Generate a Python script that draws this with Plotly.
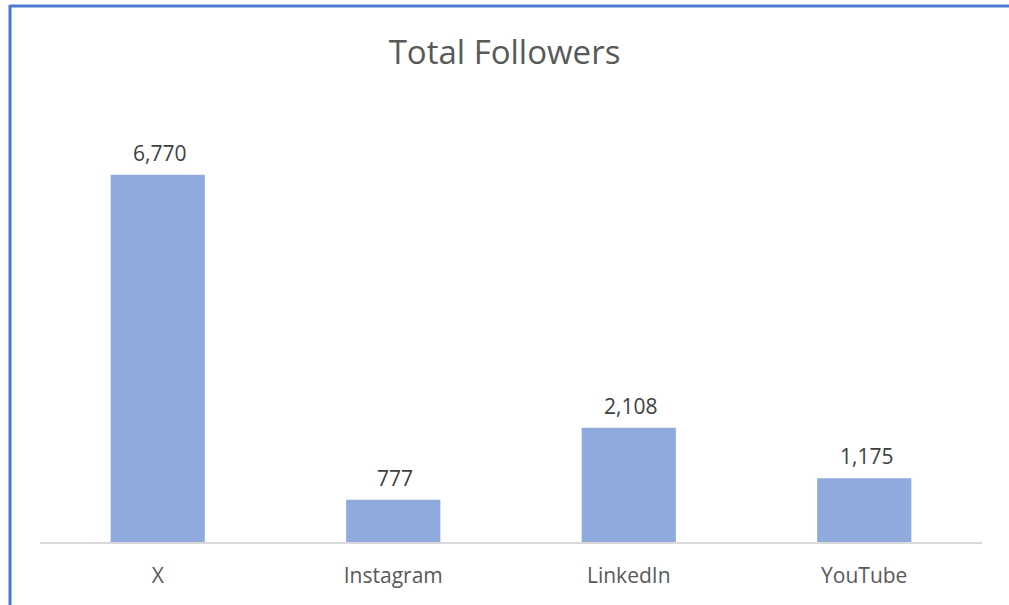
import plotly.graph_objects as go

categories = ["X", "Instagram", "LinkedIn", "YouTube"]
followers = [6770, 777, 2108, 1175]
labels = [f"{v:,}" for v in followers]

W, H = 1009, 605
L, R, T, B = 40, 27, 108, 63
pw, ph = W - L - R, H - T - B

def px_to_paper_x(px):
    return (px - L) / pw

def px_to_paper_y(py):
    return (H - B - py) / ph

fig = go.Figure(go.Bar(
    x=categories, y=followers,
    marker=dict(color="#8FAADC", line=dict(width=0)), width=0.4,
    hoverinfo="x+y",
))

for c, v, t in zip(categories, followers, labels):
    fig.add_annotation(x=c, y=v, text=t, showarrow=False, yanchor="middle", yshift=22, xshift=2,
                       font=dict(family="Open Sans", size=21, color="#404040"))

border = "#4A79D3"
fig.add_shape(type="line", xref="paper", yref="paper",
              x0=px_to_paper_x(10), x1=px_to_paper_x(W + 5),
              y0=px_to_paper_y(6), y1=px_to_paper_y(6),
              line=dict(color=border, width=3))
fig.add_shape(type="line", xref="paper", yref="paper",
              x0=px_to_paper_x(10), x1=px_to_paper_x(10),
              y0=px_to_paper_y(5), y1=px_to_paper_y(H + 5),
              line=dict(color=border, width=3))

fig.update_layout(
    width=W, height=H,
    margin=dict(l=L, r=R, t=T, b=B),
    paper_bgcolor="white", plot_bgcolor="white",
    title=dict(text="Total Followers", x=0.5, xanchor="center", y=1 - 52 / H, yanchor="middle",
               font=dict(family="Open Sans", size=33, color="#595959")),
    xaxis=dict(showline=True, linecolor="#D9D9D9", linewidth=2, ticks="", showgrid=False,
               tickfont=dict(family="Open Sans", size=21, color="#595959"),
               ticklabelstandoff=14),
    yaxis=dict(range=[0, 8000], visible=False, showgrid=False, zeroline=False),
    showlegend=False,
)

fig.write_html("out.html", config={"displayModeBar": False},
               post_script="document.body.style.margin='0';document.body.style.overflow='hidden';")
